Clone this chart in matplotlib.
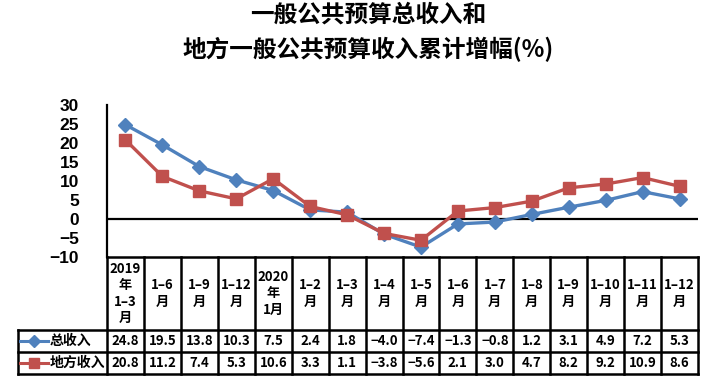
import matplotlib
matplotlib.use("Agg")
import matplotlib.pyplot as plt
from matplotlib.lines import Line2D

plt.rcParams['font.family'] = ['Noto Sans CJK SC', 'DejaVu Sans']

# data
periods = ["2019\n年\n1–3\n月", "1–6\n月", "1–9\n月", "1–12\n月", "2020\n年\n1月",
           "1–2\n月", "1–3\n月", "1–4\n月", "1–5\n月", "1–6\n月", "1–7\n月",
           "1–8\n月", "1–9\n月", "1–10\n月", "1–11\n月", "1–12\n月"]
total_rev = [24.8, 19.5, 13.8, 10.3, 7.5, 2.4, 1.8, -4.0, -7.4, -1.3, -0.8, 1.2, 3.1, 4.9, 7.2, 5.3]
local_rev = [20.8, 11.2, 7.4, 5.3, 10.6, 3.3, 1.1, -3.8, -5.6, 2.1, 3.0, 4.7, 8.2, 9.2, 10.9, 8.6]
series_names = ["总收入", "地方收入"]
y_ticks = [-10, -5, 0, 5, 10, 15, 20, 25, 30]
title = "一般公共预算总收入和\n地方一般公共预算收入累计增幅(%)"

blue = "#4F81BD"
red = "#C0504D"

W, H = 711, 384
fig = plt.figure(figsize=(W / 100, H / 100), dpi=100)

# pixel layout
x0, x1 = 107, 698
y_top, y_bot = 105, 257
lab_x = 18
row_y = [257, 330, 352, 374]

ax = fig.add_axes([x0 / W, 1 - y_bot / H, (x1 - x0) / W, (y_bot - y_top) / H])
n = len(periods)
xs = list(range(n))
ax.plot(xs, total_rev, color=blue, lw=2.4, marker="D", ms=7, zorder=3)
ax.plot(xs, local_rev, color=red, lw=2.4, marker="s", ms=9, zorder=3)
ax.axhline(0, color="black", lw=1.6, zorder=2)
ax.set_xlim(-0.5, n - 0.5)
ax.set_ylim(-10, 30)
ax.set_yticks(y_ticks)
ax.set_yticklabels([str(t).replace("-", "−") for t in y_ticks],
                   fontfamily="Liberation Sans", fontweight="bold", fontsize=12.5)
ax.tick_params(axis="y", length=0, pad=20)
ax.set_xticks([])
for s in ["top", "right", "bottom"]:
    ax.spines[s].set_visible(False)
ax.spines["left"].set_linewidth(1.6)
ax.patch.set_alpha(0)

# table axes below, sharing column units
col_w = (x1 - x0) / n
tx_left = -0.5 - (x0 - lab_x) / col_w
tab = fig.add_axes([lab_x / W, 1 - row_y[-1] / H, (x1 - lab_x) / W, (row_y[-1] - row_y[0]) / H])
tab.set_xlim(tx_left, n - 0.5)
tab.set_ylim(row_y[-1], row_y[0])
tab.axis("off")

lw = 1.8
# horizontal lines
tab.plot([-0.5, n - 0.5], [row_y[0]] * 2, color="black", lw=lw, clip_on=False)
for y in row_y[1:]:
    tab.plot([tx_left, n - 0.5], [y] * 2, color="black", lw=lw, clip_on=False)
# vertical lines
for i in range(n + 1):
    tab.plot([i - 0.5] * 2, [row_y[0], row_y[-1]], color="black", lw=lw, clip_on=False)
tab.plot([tx_left] * 2, [row_y[1], row_y[-1]], color="black", lw=lw, clip_on=False)

# header text
for i, p in enumerate(periods):
    tab.text(i, (row_y[0] + row_y[1]) / 2, p, ha="center", va="center",
             fontsize=9.5, fontweight="bold", linespacing=1.2)

# value rows with legend keys
rows = [(total_rev, blue, "D", 6), (local_rev, red, "s", 7.5)]
for r, (vals, c, m, ms) in enumerate(rows):
    yc = (row_y[r + 1] + row_y[r + 2]) / 2
    key0 = tx_left + 2 / col_w
    key1 = tx_left + 30 / col_w
    tab.add_line(Line2D([key0, key1], [yc, yc], color=c, lw=2.2, clip_on=False))
    tab.plot([(key0 + key1) / 2], [yc], marker=m, color=c, ms=ms, clip_on=False)
    tab.text(tx_left + 32 / col_w, yc, series_names[r], ha="left", va="center",
             fontsize=10, fontweight="bold")
    for i, v in enumerate(vals):
        tab.text(i, yc, f"{v:.1f}".replace("-", "−"), ha="center", va="center",
                 fontsize=9.5, fontweight="bold")

fig.text(368 / W, 1 - 32 / H, title, ha="center", va="center", fontsize=17,
         fontweight="heavy", linespacing=1.5)

fig.savefig("out.png", dpi=100)
